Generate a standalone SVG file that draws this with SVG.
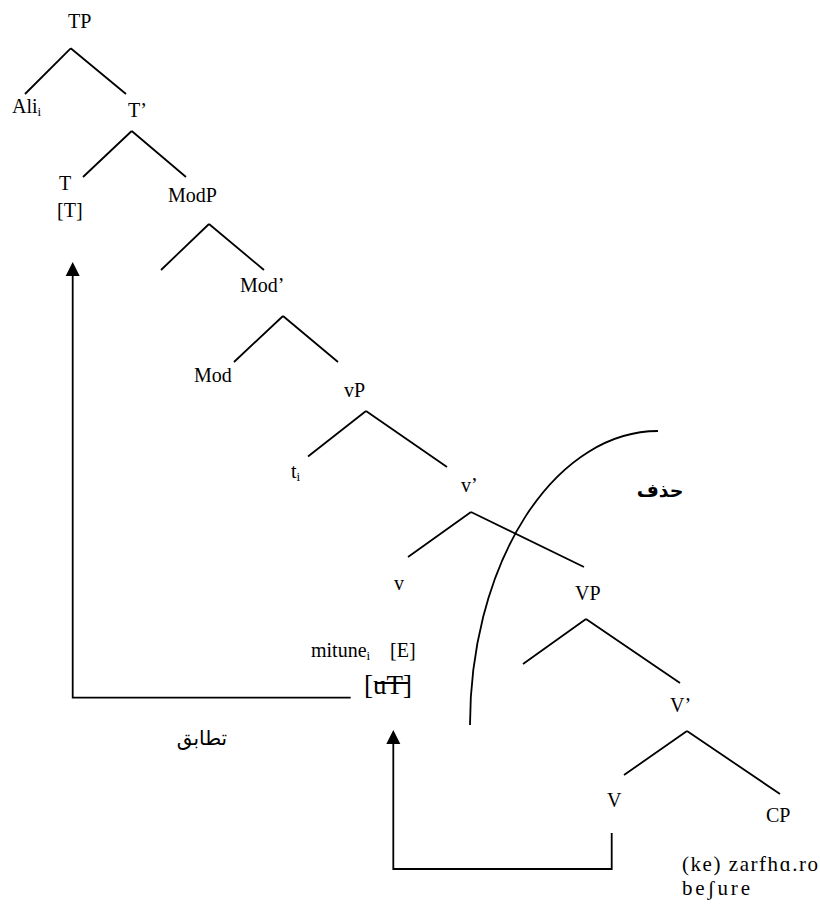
<svg xmlns="http://www.w3.org/2000/svg" width="820" height="906" viewBox="0 0 820 906">
<style>
.lbl{font-family:"Liberation Serif","Times New Roman",serif;font-size:20px;fill:#000}
.sub{font-size:13px}
.ar{font-family:"DejaVu Sans","Noto Sans",sans-serif;fill:#000}
.edge{stroke:#000;stroke-width:1.8;fill:none;stroke-linecap:butt}
</style>
<rect width="820" height="906" fill="#fff"/>
<g id="connectors">
<path class="edge" d="M70.7,48.3 L25,94 M70.7,48.3 L126,94"/>
<path class="edge" d="M131.7,131 L83,177 M131.7,131 L186,177"/>
<path class="edge" d="M209,224 L161,270 M209,224 L264,270"/>
<path class="edge" d="M283,316 L234,362 M283,316 L338,362"/>
<path class="edge" d="M366,411 L308,456.5 M366,411 L447,467"/>
<path class="edge" d="M471,512 L408,557 M471,512 L584,567"/>
<path class="edge" d="M586,619 L523,664 M586,619 L680,683"/>
<path class="edge" d="M687,731 L624,775 M687,731 L780,794"/>
<path id="agree-arrow" class="edge" d="M72.7,270 L72.7,697.7 L350.7,697.7"/>
<path d="M72.7,262 L79.7,276 L65.7,276 Z" fill="#000"/>
<path id="move-arrow" class="edge" d="M393.3,738 L393.3,869 L611.7,869 L611.7,833"/>
<path d="M393.3,730 L400.3,744 L386.3,744 Z" fill="#000"/>
<path id="ellipsis-curve" class="edge" d="M470,725 A188,294 0 0 1 658,431"/>
<line class="edge" x1="375" y1="683" x2="408" y2="683"/>
</g>
<g id="node-TP"><text class="lbl" x="68" y="28">TP</text></g>
<g id="node-Ali"><text class="lbl" x="12" y="113">Ali<tspan class="sub" dy="3">i</tspan></text></g>
<g id="node-Tbar"><text class="lbl" x="128" y="117">T’</text></g>
<g id="node-T"><text class="lbl" x="59" y="190">T</text><text class="lbl" x="57" y="217">[T]</text></g>
<g id="node-ModP"><text class="lbl" x="168" y="202">ModP</text></g>
<g id="node-Modbar"><text class="lbl" x="240" y="292">Mod’</text></g>
<g id="node-Mod"><text class="lbl" x="194" y="382">Mod</text></g>
<g id="node-vP"><text class="lbl" x="344" y="397">vP</text></g>
<g id="node-ti"><text class="lbl" x="291" y="478">t<tspan class="sub" dy="3">i</tspan></text></g>
<g id="node-vbar"><text class="lbl" x="461" y="492">v’</text></g>
<g id="node-v"><text class="lbl" x="394" y="590">v</text></g>
<g id="node-VP"><text class="lbl" x="575" y="600">VP</text></g>
<g id="node-Vbar"><text class="lbl" x="670" y="712">V’</text></g>
<g id="node-V"><text class="lbl" x="607" y="807">V</text></g>
<g id="node-CP"><text class="lbl" x="766" y="822">CP</text>
<text class="lbl" x="682" y="871" style="font-size:21px" textLength="136" lengthAdjust="spacing">(ke) zarfhɑ.ro</text>
<text class="lbl" x="682" y="895" style="font-size:21px" textLength="68" lengthAdjust="spacing">beʃure</text></g>
<g id="node-mitune"><text class="lbl" x="311" y="657">mitune<tspan class="sub" dy="3">i</tspan></text>
<text class="lbl" x="390" y="657">[E]</text>
<text class="lbl" x="364" y="694" style="font-size:27px">[uT]</text></g>
<g id="label-hazf"><text class="ar" x="660" y="497" text-anchor="middle" style="font-size:19px;font-weight:bold">حذف</text></g>
<g id="label-tatabogh"><text class="ar" x="202" y="745" text-anchor="middle" style="font-size:20px">تطابق</text></g>
</svg>
